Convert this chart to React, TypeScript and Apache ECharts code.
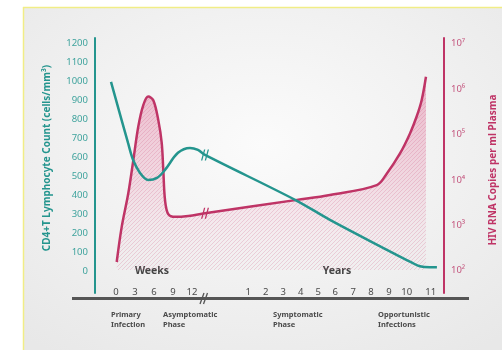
import React, { useEffect, useRef } from "react";
import * as echarts from "echarts";

// ---- tick labels ----
const weekTicks = [0, 3, 6, 9, 12];
const yearTicks = [1, 2, 3, 4, 5, 6, 7, 8, 9, 10, 11];
// axis positions (timeline units) of the year ticks on the compressed scale
const yearTickPos = [20.9, 23.65, 26.43, 29.18, 31.96, 34.64, 37.49, 40.28, 43.13, 45.92, 49.72];
const cd4Ticks = [0, 100, 200, 300, 400, 500, 600, 700, 800, 900, 1000, 1100, 1200];
const rnaPowers = [2, 3, 4, 5, 6, 7];

// ---- CD4+ T lymphocyte count (cells/mm3) on the timeline ----
const cd4Time = [-0.79, 1.9, 2.69, 3.79, 5.06, 6.48, 7.74, 9.79, 11.69, 12.95, 14.06, 28.28, 33.8, 42.8, 46.76, 48.0, 49.6, 50.7];
const cd4Count = [994, 672, 583, 514, 477, 488, 530, 620, 646, 635, 609, 372, 266, 108, 40, 21, 16, 16];

// ---- HIV RNA copies per ml plasma on the timeline ----
const rnaTime = [0.11, 0.9, 1.94, 2.73, 3.52, 4.31, 5.1, 5.89, 6.68, 7.22, 7.47, 7.74, 8.26, 9.32, 11.42, 14.06, 28.6, 33.8, 41.2, 42.77, 44.87, 46.45, 47.5, 48.29, 48.97];
const rnaCopies = [150, 890, 4900, 26000, 145000, 430000, 660000, 550000, 200000, 63000, 16000, 3500, 1700, 1480, 1550, 1780, 3500, 4500, 7400, 13200, 37000, 102000, 240000, 550000, 1800000];
const rnaAreaBase = 100;

// index of the point where the time scale breaks (weeks -> years)
const breakIndexCd4 = 10;
const breakIndexRna = 15;

const phases = [
  { text: "Primary\nInfection", x: 111 },
  { text: "Asymptomatic\nPhase", x: 163 },
  { text: "Symptomatic\nPhase", x: 273 },
  { text: "Opportunistic\nInfections", x: 378 },
];

const TEAL = "#24958e";
const TEAL_LABEL = "#3fa39d";
const PINK = "#bf3466";
const PINK_LABEL = "#c4567e";
const FONT = '"Noto Sans", sans-serif';
const SUP: Record<number, string> = { 0: "⁰", 1: "¹", 2: "²", 3: "³", 4: "⁴", 5: "⁵", 6: "⁶", 7: "⁷", 8: "⁸", 9: "⁹" };
const BREAK_PATH = "path://M1,10 L4,0 L5.3,0 L2.3,10 Z M4.7,10 L7.7,0 L9,0 L6,10 Z";
const HATCH_SVG =
  "<svg xmlns='http://www.w3.org/2000/svg' width='4' height='4'><path d='M-1,1 L1,-1 M0,4 L4,0 M3,5 L5,3' stroke='rgb(200,70,115)' stroke-opacity='0.2' stroke-width='1'/></svg>";
const HATCH_URL = "data:image/svg+xml;charset=utf-8," + encodeURIComponent(HATCH_SVG);

export default function App() {
  const ref = useRef<HTMLDivElement>(null);
  useEffect(() => {
    if (!ref.current) return;
    const chart = echarts.init(ref.current, null, { renderer: "svg" });
    const xLabelValues = [...weekTicks, ...yearTickPos];
    const xLabelTexts = [...weekTicks.map(String), ...yearTicks.map(String)];
    const rnaData = rnaTime.map((t, i) => [t, rnaCopies[i]]);
    chart.setOption({
      animation: false,
      textStyle: { fontFamily: FONT },
      grid: { left: 95, right: 58, top: 38, bottom: 57 },
      xAxis: {
        type: "value",
        min: -3.32,
        max: 51.82,
        offset: -10,
        axisLine: { show: false, onZero: false },
        axisTick: { show: false },
        splitLine: { show: false },
        axisLabel: {
          customValues: xLabelValues,
          margin: 3,
          fontSize: 9.5,
          color: "#4a4a4a",
          formatter: (v: number) => {
            const i = xLabelValues.findIndex((p) => Math.abs(p - v) < 1e-6);
            return i >= 0 ? xLabelTexts[i] : "";
          },
        },
      },
      yAxis: [
        {
          type: "value",
          min: -120,
          max: 1226,
          interval: 20,
          position: "left",
          axisLine: { show: true, onZero: false, lineStyle: { color: TEAL, width: 2 } },
          axisTick: { show: false },
          splitLine: { show: false },
          axisLabel: {
            margin: 7,
            fontSize: 9.5,
            color: TEAL_LABEL,
            formatter: (v: number) => (cd4Ticks.includes(v) ? String(v) : ""),
          },
        },
        {
          type: "log",
          logBase: 10,
          min: Math.pow(10, 1.493),
          max: Math.pow(10, 7.11),
          position: "right",
          axisLine: { show: true, onZero: false, lineStyle: { color: PINK, width: 2 } },
          axisTick: { show: false },
          splitLine: { show: false },
          axisLabel: {
            margin: 7,
            fontSize: 9.5,
            color: PINK_LABEL,
            formatter: (v: number) => {
              const l = Math.log10(v);
              const r = Math.round(l);
              if (Math.abs(l - r) < 1e-6 && rnaPowers.includes(r)) return "10" + SUP[r];
              return "";
            },
          },
        },
      ],
      series: [
        {
          type: "line",
          name: "HIV RNA",
          xAxisIndex: 0,
          yAxisIndex: 1,
          data: rnaData,
          smooth: 0.35,
          showSymbol: false,
          lineStyle: { color: PINK, width: 2.5 },
          areaStyle: {
            origin: rnaAreaBase,
            color: {
              type: "linear",
              x: 0, y: 0, x2: 0, y2: 1,
              colorStops: [
                { offset: 0, color: "rgba(222,80,130,0.55)" },
                { offset: 0.55, color: "rgba(230,120,160,0.3)" },
                { offset: 1, color: "rgba(245,190,210,0.03)" },
              ],
            },
          },
          markPoint: {
            symbol: BREAK_PATH,
            symbolSize: [8, 11],
            label: { show: false },
            itemStyle: { color: PINK },
            data: [{ coord: [rnaTime[breakIndexRna], rnaCopies[breakIndexRna]] }],
          },
          z: 2,
        },
        {
          type: "line",
          name: "HIV RNA hatch",
          xAxisIndex: 0,
          yAxisIndex: 1,
          data: rnaData,
          smooth: 0.35,
          showSymbol: false,
          silent: true,
          lineStyle: { width: 0, opacity: 0 },
          areaStyle: {
            origin: rnaAreaBase,
            color: { image: HATCH_URL, repeat: "repeat", imageWidth: 4, imageHeight: 4 },
            opacity: 1,
          },
          z: 2,
        },
        {
          type: "line",
          name: "CD4",
          xAxisIndex: 0,
          yAxisIndex: 0,
          data: cd4Time.map((t, i) => [t, cd4Count[i]]),
          smooth: 0.35,
          showSymbol: false,
          lineStyle: { color: TEAL, width: 2.5 },
          markPoint: {
            symbol: BREAK_PATH,
            symbolSize: [8, 11],
            label: { show: false },
            itemStyle: { color: TEAL },
            data: [{ coord: [cd4Time[breakIndexCd4], cd4Count[breakIndexCd4]] }],
          },
          z: 3,
        },
      ],
      graphic: [
        {
          type: "rect",
          z: -10,
          silent: true,
          shape: { x: 23, y: 7, width: 479, height: 343 },
          style: {
            fill: {
              type: "radial",
              x: 0.5, y: 0.4, r: 0.75,
              colorStops: [
                { offset: 0, color: "#fbfbfb" },
                { offset: 1, color: "#e8e8e8" },
              ],
            },
          },
        },
        { type: "line", z: -9, shape: { x1: 23.5, y1: 7, x2: 23.5, y2: 350 }, style: { stroke: "#f1ed86", lineWidth: 1.5 } },
        { type: "line", z: -9, shape: { x1: 23, y1: 7.5, x2: 502, y2: 7.5 }, style: { stroke: "#f1ed86", lineWidth: 1.5 } },
        // time axis line with break
        { type: "line", shape: { x1: 72, y1: 298.5, x2: 469, y2: 298.5 }, style: { stroke: "#555555", lineWidth: 3 } },
        { type: "line", shape: { x1: 200, y1: 304, x2: 204, y2: 293 }, style: { stroke: "#555555", lineWidth: 1.3 } },
        { type: "line", shape: { x1: 203.5, y1: 304, x2: 207.5, y2: 293 }, style: { stroke: "#555555", lineWidth: 1.3 } },
        {
          type: "text", x: 152, y: 270,
          style: { text: "Weeks", align: "center", verticalAlign: "middle", fontSize: 10.5, fontWeight: "bold", fontFamily: FONT, fill: "#444444" },
        },
        {
          type: "text", x: 337, y: 270,
          style: { text: "Years", align: "center", verticalAlign: "middle", fontSize: 10.5, fontWeight: "bold", fontFamily: FONT, fill: "#444444" },
        },
        ...phases.map((p) => ({
          type: "text", x: p.x, y: 309,
          style: { text: p.text, align: "left", verticalAlign: "top", fontSize: 7.5, lineHeight: 10, fontWeight: "bold", fontFamily: FONT, fill: "#4a4a4a" },
        })),
        {
          type: "text", x: 46, y: 158, rotation: Math.PI / 2,
          style: { text: "CD4+T Lymphocyte Count (cells/mm³)", align: "center", verticalAlign: "middle", fontSize: 10, fontWeight: "bold", fontFamily: FONT, fill: TEAL },
        },
        {
          type: "text", x: 492, y: 170, rotation: Math.PI / 2,
          style: { text: "HIV RNA Copies per ml Plasma", align: "center", verticalAlign: "middle", fontSize: 10, fontWeight: "bold", fontFamily: FONT, fill: PINK },
        },
      ],
    });
    return () => chart.dispose();
  }, []);
  return <div ref={ref} style={{ position: "fixed", left: 0, top: 0, width: 502, height: 350 }} />;
}
